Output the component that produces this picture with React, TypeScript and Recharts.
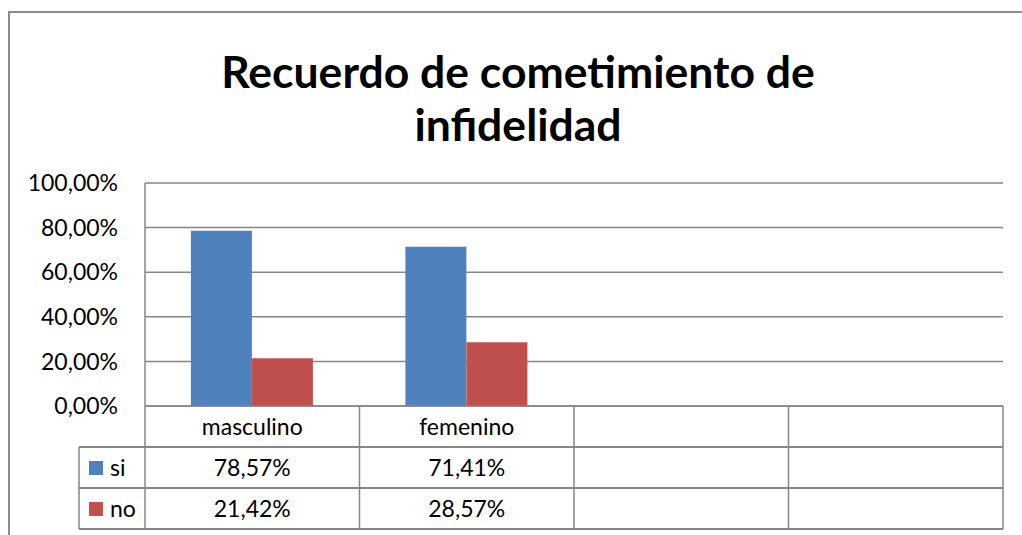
import React from 'react';
import { BarChart, Bar, XAxis, YAxis, CartesianGrid } from 'recharts';

const categories = ['masculino', 'femenino', '', ''];
const siValues = [0.7857, 0.7141, null, null];
const noValues = [0.2142, 0.2857, null, null];
const yTicks = [0, 0.2, 0.4, 0.6, 0.8, 1];
const seriesNames = ['si', 'no'];

const BLUE = '#4F81BD';
const RED = '#C0504D';
const GRID = '#868686';
const FONT = 'Lato, "DejaVu Sans", sans-serif';

const W = 1022;
const H = 535;
const PLOT_LEFT = 145;
const PLOT_RIGHT = 1003;
const PLOT_TOP = 183;
const PLOT_BOTTOM = 406;
const ROW_H = 41;
const LEGEND_LEFT = 79;

const pct = (v: number | null) => (v == null ? '' : (v * 100).toFixed(2).replace('.', ',') + '%');

const data = categories.map((name, i) => ({ name, si: siValues[i], no: noValues[i] }));
const seriesValues = [siValues, noValues];
const seriesColors = [BLUE, RED];

// x-axis tick draws one column of the data table under the plot
function TableTick(props: any) {
  const { x, y, payload, index } = props;
  const half = payload?.offset || (PLOT_RIGHT - PLOT_LEFT) / categories.length / 2;
  const i = index ?? payload?.index ?? 0;
  const right = x + half;
  const bottom = y + ROW_H * 3;
  return (
    <g>
      {i === 0 && (
        <g>
          {/* frame, row lines and legend column */}
          <line x1={PLOT_LEFT} y1={y} x2={PLOT_RIGHT} y2={y} stroke={GRID} strokeWidth={1.5} />
          {[1, 2, 3].map((r) => (
            <line key={r} x1={LEGEND_LEFT} y1={y + ROW_H * r} x2={PLOT_RIGHT} y2={y + ROW_H * r} stroke={GRID} strokeWidth={2} />
          ))}
          <line x1={PLOT_LEFT} y1={y} x2={PLOT_LEFT} y2={bottom} stroke={GRID} strokeWidth={1.5} />
          <line x1={LEGEND_LEFT} y1={y + ROW_H} x2={LEGEND_LEFT} y2={bottom} stroke={GRID} strokeWidth={1.5} />
          {seriesNames.map((s, r) => (
            <g key={s}>
              <rect x={89} y={y + ROW_H * (r + 1) + 14} width={14} height={14} fill={seriesColors[r]} />
              <text x={110} y={y + ROW_H * (r + 1.5)} dy="0.36em" fontSize={23} fontFamily={FONT} fill="#000">{s}</text>
            </g>
          ))}
        </g>
      )}
      <line x1={right} y1={y} x2={right} y2={bottom} stroke={GRID} strokeWidth={1.5} />
      <text x={x} y={y + ROW_H * 0.5} dy="0.36em" textAnchor="middle" fontSize={23} fontFamily={FONT} fill="#000">
        {payload.value}
      </text>
      {seriesValues.map((vals, r) => (
        <text key={r} x={x} y={y + ROW_H * (r + 1.5)} dy="0.36em" textAnchor="middle" fontSize={23} fontFamily={FONT} fill="#000">
          {pct(vals[i])}
        </text>
      ))}
    </g>
  );
}

export default function App() {
  return (
    <div style={{ position: 'relative', width: W, height: H, overflow: 'hidden', background: '#fff' }}>
      <style>{'html,body{margin:0;padding:0;overflow:hidden;background:#fff}'}</style>
      <div
        style={{
          position: 'absolute', left: 0, top: 44, width: 1036, textAlign: 'center',
          fontFamily: FONT, fontWeight: 700, fontSize: 44.5, lineHeight: '53px', color: '#000',
        }}
      >
        Recuerdo de cometimiento de
        <br />
        infidelidad
      </div>
      <div style={{ position: 'absolute', left: 0, top: 0 }}>
        <BarChart
          width={W}
          height={H}
          data={data}
          margin={{ top: PLOT_TOP, right: W - PLOT_RIGHT, bottom: 0, left: 0 }}
          barCategoryGap="21.4%"
          barGap={0}
        >
          <CartesianGrid horizontal vertical={false} stroke={GRID} strokeWidth={1.5} />
          <XAxis
            dataKey="name"
            height={H - PLOT_BOTTOM}
            axisLine={false}
            tickLine={false}
            tickSize={0}
            tickMargin={0}
            interval={0}
            tick={<TableTick />}
          />
          <YAxis
            width={PLOT_LEFT}
            domain={[0, 1]}
            ticks={yTicks}
            tickFormatter={pct}
            axisLine={{ stroke: GRID, strokeWidth: 1.5 }}
            tickLine={false}
            tickSize={0}
            tickMargin={27}
            tick={{ fontSize: 23, fontFamily: FONT, fill: '#000' }}
          />
          <Bar dataKey="si" fill={BLUE} isAnimationActive={false} />
          <Bar dataKey="no" fill={RED} isAnimationActive={false} />
        </BarChart>
      </div>
      <div style={{ position: 'absolute', left: 1008, top: 0, width: 14, height: H, background: '#fff' }} />
      <div style={{ position: 'absolute', left: 8, top: 11, width: 2, height: H, background: '#8c8c8c' }} />
      <div style={{ position: 'absolute', left: 8, top: 11, width: W, height: 2, background: '#8c8c8c' }} />
    </div>
  );
}
